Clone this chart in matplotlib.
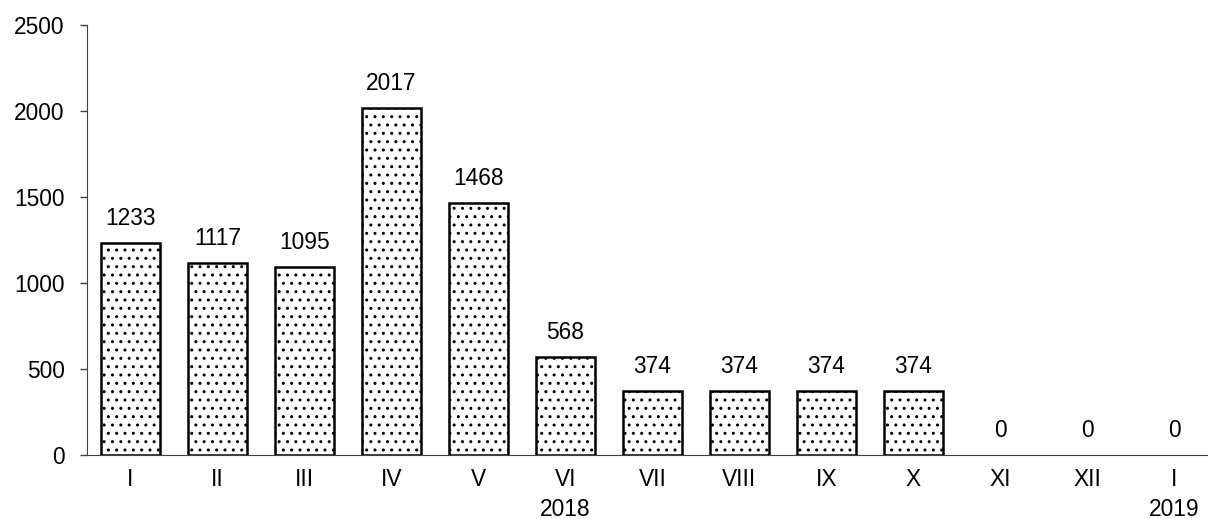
import matplotlib
matplotlib.use('Agg')
import matplotlib.pyplot as plt

plt.rcParams['font.family'] = ['Liberation Sans', 'DejaVu Sans']
plt.rcParams['hatch.color'] = '#444444'
plt.rcParams['hatch.linewidth'] = 1.0

months = ['I', 'II', 'III', 'IV', 'V', 'VI\n2018', 'VII', 'VIII', 'IX', 'X', 'XI', 'XII', 'I\n2019']
values = [1233, 1117, 1095, 2017, 1468, 568, 374, 374, 374, 374, 0, 0, 0]

W, H = 1208, 519
fs = 16.4
fig = plt.figure(figsize=(W / 100, H / 100), dpi=100)
# axis runs past the right edge of the picture, as in the reference
ax = fig.add_axes([87 / W, (H - 455) / H, 1131 / W, 430 / H])

x = list(range(len(values)))
lw = [1.8 if v > 0 else 0 for v in values]
bars = ax.bar(x, values, width=0.68, color='white', edgecolor='black',
              linewidth=lw, hatch='..')

for xi, v in zip(x, values):
    ax.text(xi, v + 75, str(v), ha='center', va='bottom', fontsize=fs)

ax.set_xlim(-0.5, len(values) - 0.5)
ax.set_ylim(0, 2500)
ax.set_yticks([0, 500, 1000, 1500, 2000, 2500])
ax.set_xticks(x)
ax.set_xticklabels(months, fontsize=fs, linespacing=1.4)
ax.tick_params(axis='x', length=0, pad=9)
ax.tick_params(axis='y', labelsize=fs, length=5, width=1, direction='out', pad=11,
               color='#404040')
ax.spines['top'].set_visible(False)
ax.spines['right'].set_visible(False)
ax.spines['left'].set_color('#404040')
ax.spines['bottom'].set_color('#404040')

fig.savefig('out.png', dpi=100)
